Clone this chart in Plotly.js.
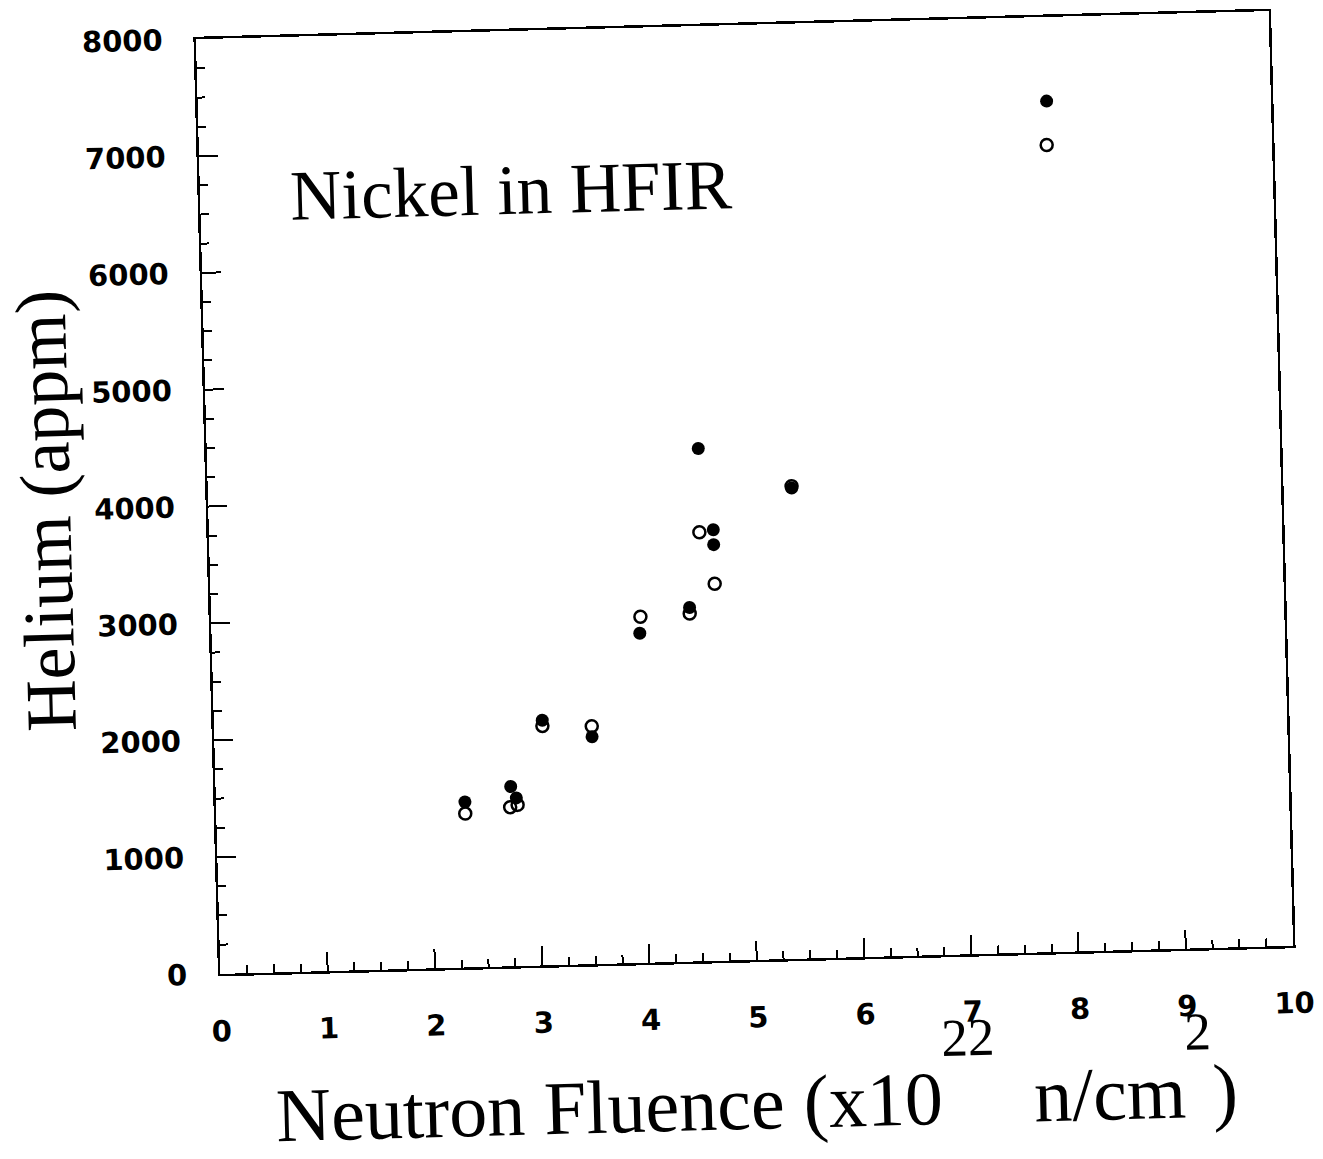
<!DOCTYPE html>
<html>
<head>
<meta charset="utf-8">
<script src="https://cdn.plot.ly/plotly-3.0.1.min.js"></script>
<style>
  html, body { margin: 0; padding: 0; background: #ffffff; }
  #chart { width: 1323px; height: 1159px; transform: rotate(-1.5deg); transform-origin: 744.5px 492.5px; }
</style>
</head>
<body>
<div id="chart"></div>
<script>
// Neutron fluence (x10^22 n/cm^2) and helium (appm)
const fluenceFilled = [2.32, 2.75, 2.80, 3.06, 3.52, 3.99, 4.46, 4.58, 4.70, 4.70, 5.44, 7.91];
const heliumFilled  = [1416, 1537, 1439, 2097, 1945, 2819, 3028, 4387, 3689, 3561, 4027, 7280];
const fluenceOpen   = [2.32, 2.74, 2.81, 3.06, 3.52, 4.00, 4.46, 4.57, 4.70, 5.44, 7.90];
const heliumOpen    = [1316, 1361, 1379, 2049, 2035, 2961, 2977, 3670, 3226, 4044, 6905];

const xTickVals = [0, 1, 2, 3, 4, 5, 6, 7, 8, 9, 10];
const yTickVals = [0, 1000, 2000, 3000, 4000, 5000, 6000, 7000, 8000];

const chartTitle = "Nickel in HFIR";
const xTitle = "Neutron Fluence (x10<sup><span style=\"baseline-shift:36px\">22</span></sup>&nbsp;&nbsp;n/cm<sup><span style=\"baseline-shift:36px\">2</span></sup>)";
const yTitle = "Helium (appm)";

const serif = "Liberation Serif, Times New Roman, serif";
const sans = "DejaVu Sans, Verdana, sans-serif";

const traces = [
  {
    x: fluenceFilled, y: heliumFilled, type: "scatter", mode: "markers",
    marker: { symbol: "circle", size: 13, color: "#000000" },
    showlegend: false
  },
  {
    x: fluenceOpen, y: heliumOpen, type: "scatter", mode: "markers",
    marker: { symbol: "circle-open", size: 12, color: "#000000", line: { width: 2.5, color: "#000000" } },
    showlegend: false
  }
];

const axisCommon = {
  showline: true, linecolor: "#000000", linewidth: 2.5, mirror: true,
  showgrid: false, zeroline: false,
  ticks: "inside", ticklen: 19, tickwidth: 2, tickcolor: "#000000",
  tickfont: { family: sans, size: 29, color: "#000000", weight: "bold" }
};

const layout = {
  width: 1323, height: 1159,
  paper_bgcolor: "#ffffff", plot_bgcolor: "#ffffff",
  margin: { l: 207.5, r: 41.5, t: 24.5, b: 198.5 },
  xaxis: Object.assign({}, axisCommon, {
    range: [0, 10], tickvals: xTickVals, ticktext: xTickVals.map(String),
    ticklabelstandoff: 30,
    minor: { dtick: 0.25, ticks: "inside", ticklen: 8, tickwidth: 2, tickcolor: "#000000", showgrid: false },
    automargin: false
  }),
  yaxis: Object.assign({}, axisCommon, {
    range: [0, 8000], tickvals: yTickVals, ticktext: yTickVals.map(String),
    ticklabelstandoff: 25,
    minor: { dtick: 250, ticks: "inside", ticklen: 8, tickwidth: 2, tickcolor: "#000000", showgrid: false },
    title: { text: yTitle, font: { family: serif, size: 72, color: "#000000" }, standoff: 0 },
    automargin: false
  }),
  annotations: [
    {
      text: chartTitle, xref: "x", yref: "y", x: 0.82, y: 6640,
      xanchor: "left", yanchor: "middle", showarrow: false,
      font: { family: serif, size: 71, color: "#000000" }
    },
    {
      text: xTitle, xref: "paper", yref: "paper", x: 0.497, y: 0,
      xanchor: "center", yanchor: "bottom", yshift: -188, showarrow: false,
      font: { family: serif, size: 76, color: "#000000" }
    }
  ]
};

Plotly.newPlot("chart", traces, layout, { displayModeBar: false, staticPlot: true });
</script>
</body>
</html>
